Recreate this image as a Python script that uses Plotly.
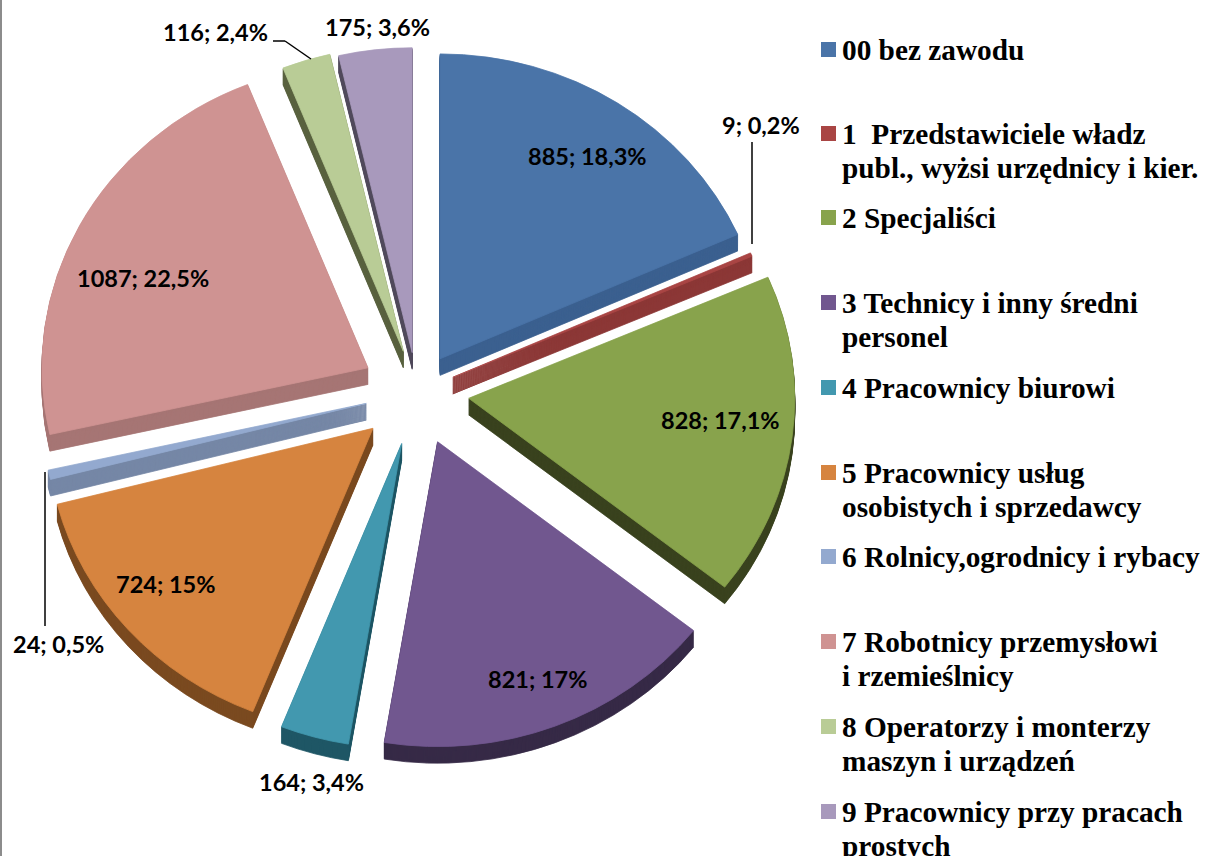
import plotly.graph_objects as go

categories = ["00 bez zawodu", "1  Przedstawiciele władz<br>publ., wyżsi urzędnicy i kier.", "2 Specjaliści",
              "3 Technicy i inny średni<br>personel", "4 Pracownicy biurowi",
              "5 Pracownicy usług<br>osobistych i sprzedawcy", "6 Rolnicy,ogrodnicy i rybacy",
              "7 Robotnicy przemysłowi<br>i rzemieślnicy", "8 Operatorzy i monterzy<br>maszyn i urządzeń",
              "9 Pracownicy przy pracach<br>prostych"]
values = [885, 9, 828, 821, 164, 724, 24, 1087, 116, 175]
percents = ["18,3%", "0,2%", "17,1%", "17%", "3,4%", "15%", "0,5%", "22,5%", "2,4%", "3,6%"]
colors = ["#4A74A8", "#A94544", "#88A34C", "#71578F", "#4298AF", "#D6843F", "#93A9CF", "#CF9392", "#B9CC96", "#A899BC"]
side_colors = ["#3C6090", "#8C3837", "#3A431F", "#362A47", "#1F5766", "#7A4A20", "#7587A6", "#A67574", "#59623F", "#514A5C"]
pulls = [0.13, 0.12, 0.16, 0.175, 0.175, 0.18, 0.16, 0.17, 0.14, 0.13]

W, H = 1205, 856
CX, CY, R = 417, 392, 312
SIZE = 2 * R * (1 + max(pulls))
DEPTH = 17
SX, SY = 1.045, 0.977  # the reference pie is tilted, so slightly wider than tall

# label centres and legend rows in page pixels
label_xy = [(587, 156), (761, 125), (720, 420), (537, 679), (311, 782), (165, 584), (58, 644), (143, 278), (215, 32), (377, 27)]
legend_y = [50, 134, 218, 303, 388, 473, 557, 642, 727, 812]
LINE_GAP = 34


def pie(dy, cols):
    return go.Pie(
        values=values, labels=categories, sort=False, direction="clockwise", rotation=0,
        pull=pulls, textinfo="none", showlegend=False, hoverinfo="label+value+percent",
        marker=dict(colors=cols, line=dict(width=0.8, color=cols)),
        domain=dict(x=[(CX - SIZE / 2) / W, (CX + SIZE / 2) / W],
                    y=[1 - (CY + dy + SIZE / 2) / H, 1 - (CY + dy - SIZE / 2) / H]),
    )


fig = go.Figure()
for d in range(DEPTH, 0, -1):
    fig.add_trace(pie(d, side_colors))
fig.add_trace(pie(0, colors))

annotations = []
shapes = []
for v, p, (x, y) in zip(values, percents, label_xy):
    annotations.append(dict(text=f"<b>{v}; {p}</b>", x=x / W, y=1 - y / H, xref="paper", yref="paper",
                            showarrow=False, xanchor="center", yanchor="middle",
                            font=dict(family="Lato", size=23.5, color="black")))
for cat, col, ys in zip(categories, colors, legend_y):
    for i, line in enumerate(cat.split("<br>")):
        annotations.append(dict(text=f"<b>{line}</b>", x=840 / W, y=1 - (ys + i * LINE_GAP) / H, xref="paper",
                                yref="paper", showarrow=False, xanchor="left", yanchor="middle", align="left",
                                font=dict(family="Liberation Serif", size=29.3, color="black")))
    shapes.append(dict(type="rect", xref="paper", yref="paper", x0=821 / W, x1=836 / W,
                       y0=1 - (ys + 7) / H, y1=1 - (ys - 8) / H, fillcolor=col, line_width=0))

# leader lines
leaders = [[(752, 142), (752, 244)], [(45, 472), (45, 626)], [(273, 41), (285, 41), (311, 59)]]
for pts in leaders:
    for (x0, y0), (x1, y1) in zip(pts, pts[1:]):
        shapes.append(dict(type="line", xref="paper", yref="paper", x0=x0 / W, x1=x1 / W,
                           y0=1 - y0 / H, y1=1 - y1 / H, line=dict(color="black", width=1.5)))
# frame edge
shapes.append(dict(type="rect", xref="paper", yref="paper", x0=0, x1=2 / W, y0=0, y1=1,
                   fillcolor="#8C8C8C", line_width=0))

fig.update_layout(width=W, height=H, margin=dict(l=0, r=0, t=0, b=0), paper_bgcolor="white",
                  annotations=annotations, shapes=shapes)
post = f"""
document.body.style.margin='0';
document.querySelectorAll('.pielayer').forEach(function(g){{
  g.setAttribute('transform','translate({CX},{CY}) scale({SX},{SY}) translate({-CX},{-CY})');
}});
"""
fig.write_html("out.html", post_script=post, config=dict(displayModeBar=False))
